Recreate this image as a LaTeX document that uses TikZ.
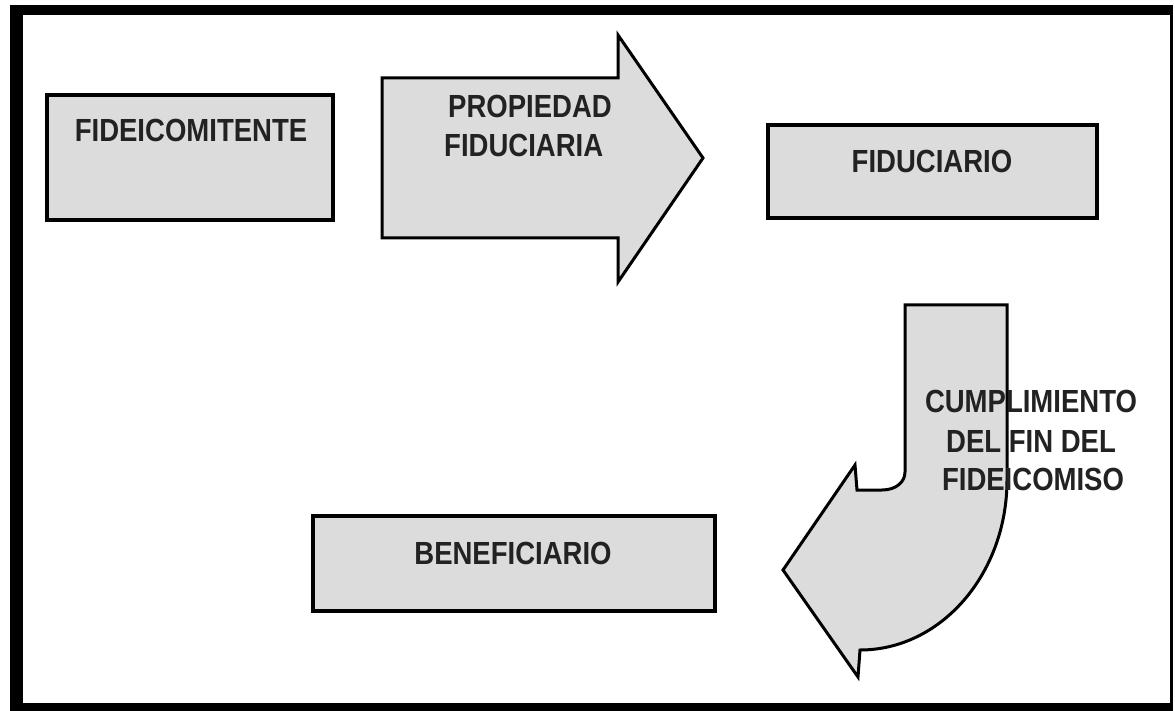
\documentclass[tikz,border=0pt]{standalone}
\usepackage{fontspec}
\newfontfamily\lblfont[FakeStretch=0.86]{Liberation Sans}
\definecolor{boxgray}{HTML}{DCDCDC}
\definecolor{txtgray}{HTML}{222222}
\begin{document}
\begin{tikzpicture}[x=1pt,y=-1pt,
  boxstyle/.style={draw=black, line width=3.5pt, fill=boxgray, rectangle, inner sep=0pt},
  shapestyle/.style={draw=black, line width=3pt, fill=boxgray, line join=miter},
  lbl/.style={font=\lblfont\bfseries\fontsize{32}{38}\selectfont, text=txtgray, inner sep=0pt}]
\useasboundingbox (0,0) rectangle (1175,711);
% frame
\fill[white] (0,0) rectangle (1175,711);
\fill[black] (10,5) rectangle (1173,711);
\fill[white] (23,15) rectangle (1170,703);
% boxes
\node[boxstyle, minimum width=286pt, minimum height=125pt] (fid) at (190,157.5) {};
\node[boxstyle, minimum width=329pt, minimum height=93pt] (fidu) at (932.5,171.5) {};
\node[boxstyle, minimum width=402pt, minimum height=95pt] (bene) at (514,563.5) {};
% straight arrow
\draw[shapestyle] (382,78) coordinate (a1) -- (618,78) -- (618,35) -- (703,158) coordinate (a1tip) -- (618,282) -- (618,238) -- (382,238) -- cycle;
% curved arrow
\draw[shapestyle] (905,305) coordinate (c1) -- (1007,305) -- (1007,480)
  .. controls (1007,574) and (941,650) .. (860,650)
  -- (858,677) -- (783,570) coordinate (c1tip) -- (855,465) -- (857,490) -- (882,490)
  .. controls (896,490) and (905,482) .. (905,472) -- cycle;
% labels
\node[lbl, anchor=base] (tfid) at (191,142) {FIDEICOMITENTE};
\node[lbl, anchor=base west] (tprop1) at (448,118) {PROPIEDAD};
\node[lbl, anchor=base west] (tprop2) at (444,157) {FIDUCIARIA};
\node[lbl, anchor=base] (tfidu) at (932,173) {FIDUCIARIO};
\node[lbl, anchor=base] (tbene) at (513,564) {BENEFICIARIO};
\node[lbl, anchor=base] (tc1) at (1031,412) {CUMPLIMIENTO};
\node[lbl, anchor=base] (tc2) at (1031,452) {DEL FIN DEL};
\node[lbl, anchor=base] (tc3) at (1033,490) {FIDEICOMISO};
\end{tikzpicture}
\end{document}
